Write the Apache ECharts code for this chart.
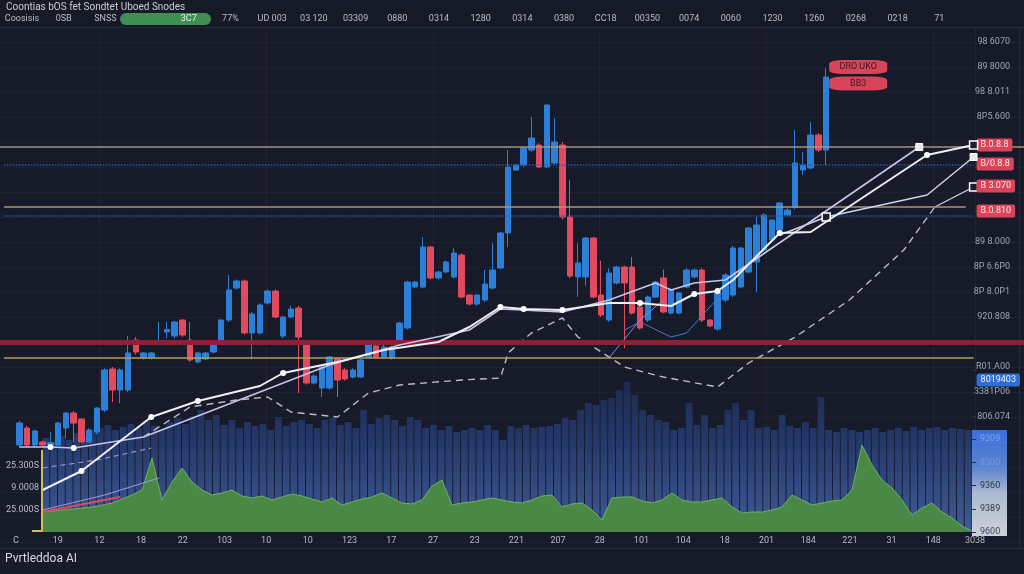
<!DOCTYPE html>
<html><head><meta charset="utf-8">
<script src="https://cdn.jsdelivr.net/npm/echarts/dist/echarts.min.js"></script>
<style>html,body{margin:0;padding:0;background:#171a28;}#c{width:1024px;height:574px;}</style>
</head><body><div id="c"></div>
<script>
// ---------- DATA ----------
const titleText = 'Coontias bOS fet Sondtet Uboed Snodes';
const footerText = 'Pvrtleddoa AI';
const topLabels = ['Coosisis','0SB','SNSS','','3C7','77%','UD 003','03 120','03309','0880','0314','1280','0314','0380','CC18','00350','0074','0060','1230','1260','0268','0218','71',''];
const bottomLabels = ['C','19','12','18','22','103','10','10','123','17','27','23','221','207','28','101','104','18','201','184','221','31','148','3038'];
const priceTickValues = [400,380,360,340,240,220,200,180,140,120,100];
const priceTickLabels = ['98 6070','89 8000','98 8.011','8P5.600','89 8.000','8P 6.6P0','8P 8.0P1','920.808','R01.A00','3381P06','806.074'];
const volBoxLabels = ['9600','9389','9360','9300','9309'];
const leftLabels = ['','25.000S','9.0008','25.300S'];

// candles: [open, close, low, high]
const candles = [
[77.6,95.2,76,97],[91.2,77.6,76,93],[77.6,88.8,76,90],[80,77.6,76.5,81],[78,79.5,77.6,88],
[77.6,95.2,77,96],[91.2,103.2,83,104],[103.2,95.2,80,105],[98.4,80,79,99],[80,89.6,79,91],
[88,107.2,86,108],[105.6,137.6,104,139],[138.4,121.6,112,140],[121.6,137.6,111,139],[121.6,151.2,120,165],
[161.6,152,150,164],[147.2,151.2,146,152],[147.2,151.2,146,152],[160,161,157.6,176],[168,170,163,176],
[164.8,176,163,177],[177.6,165.6,164,178],[161.6,145.6,144,176],[144,151.2,143,152],[146.4,151.2,145.6,152],
[152,159.2,151,160],[159.2,177.6,158,178],[177.6,201.6,176,213.6],[203.2,208.8,202,210],[208.8,167.2,166,210],
[167.2,182.4,146,184],[167.2,189.6,166,191],[191.2,200.8,190,202],[200.8,180,179,202],[164.8,180,163,181],
[180,186.4,179,189],[187.2,164,119,189],[158.4,127.2,126,160],[127.2,132.8,126,134],[123.2,140,116,141],
[123.2,148,122,149],[146.4,129.6,116,148],[137.6,130.4,129,139],[132,137.6,131,139],[132,145.6,131,147],
[148,157.6,147,159],[156.8,148,147,158],[148,156,147,158],[147.2,156,146,157],[159.2,175.2,158,176],
[171.2,208,170,209],[204,208,203,209],[204,236,203,244],[236,211.2,210,237],[211.2,216,210,217],
[216,224,215,225],[212,231.2,211,235],[229.6,196,195,231],[197.6,190.4,189,198],[190.4,197.6,189,198],
[193.6,206.4,192,217.6],[203.2,217.6,202,239],[219.2,247.2,218,248],[247.2,300,236,313.6],[297.6,301.6,297,302],
[301.6,315.2,300,316],[313.6,323.2,312,340],[317.6,300,299,319],[300,349.6,299,350],[303.2,320,302,339],
[317.6,260,258,320],[260,212.8,211,289.6],[212,223.2,196,239],[212,243.2,205,244],[243.2,196,195,244],
[197.6,181.6,180,225],[177.6,215.2,176,219],[207.2,220,206,221],[220,207.2,155,221],[220,183.2,182,228],
[188,171.2,170,189],[177.6,196,176,197],[196,208,195,209],[211.2,184,183,218],[183.2,201.6,182,203],
[183.2,199.2,182,200],[204,217.6,203,219],[212,217.6,211,219],[217.6,177.6,176,219],[177.6,172.8,172,178],
[170.4,200,169,201],[193.6,213.6,192,215],[197.6,235.2,196,237],[204,235.2,203,236],[216,251.2,215,252],
[224,253.6,200,260],[233.6,261.6,232,263],[241.6,257.6,240,258],[249.6,271.2,248,272],[261.6,265.6,260,267],
[268,303.2,266,329.6],[297.6,301.6,293.6,312],[299.2,325.6,298,336],[325.6,313.6,312,327],[313.6,372,301.6,379.2]
];

// line points: [candleIndex, value, marker]
const lineMain = [[3,41.6],[8,56.8,'o'],[17,100,'o'],[23,112.8,'o'],[31,124.8],[34,135.2,'o'],[41,144],[47,153.6],[54,160],[58,172],[62,188,'o'],[65,186.4,'o'],[70,185.6,'o'],[76,191.2],[80,191.2,'o'],[84,188.8],[87,198.4,'o'],[90,200.8,'o'],[92,209.6],[98,247.2,'o'],[102,248],[117,309.6,'o'],[123,317.6,'s']];
const lineSecond = [[0,76],[4,76,'o'],[7,75.2,'o'],[16,84],[30,117.6],[40,141.6],[49,157.6],[58,169.6],[62,186.4],[70,184],[76,193.6],[82,207.2],[84,201.6],[87,207.2],[91,209.6],[116,316,'f']];
const lineThird = [[98,245.6],[104,260,'s'],[117,277.6],[123,308,'f']];
const lineDashed = [[16,84],[22,108],[28,113.6],[32,116],[35,104],[41,100],[45,119.2],[49,125.6],[57,129.6],[62,131.2],[63,151.2],[66,167.2],[70,179.2],[72,164],[78,140],[83,132],[90,124],[94,143.2],[100,164],[107,193.6],[114,233.6],[118,268]];
const lineDashedEnd = [[118,268],[123,284,'s']];
const lineBlueThin = [[78,169.6],[80,176],[84,164],[86,167.2],[89,188],[91,201.6]];
const lineLavThin = [[76,147.2],[80,177.6],[83,193.6]];
const lineRedLow = [[3,24],[13,36]];
const lineLavLow = [[3,25.6],[11,37.6],[18,51.2]];
const lineLavDashLow = [[3,59.2],[10,65.6],[17,75.2]];

const volume = [94,90,96,92,99,94,102,104,107,102,105,108,104,112,106,102,110,114,108,116,122,112,117,107,112,104,110,106,108,102,115,106,110,112,108,104,112,114,107,110,104,122,108,114,117,112,106,115,112,104,107,102,106,100,102,104,102,107,102,92,106,104,107,104,105,106,108,114,112,122,129,127,132,134,142,150,137,122,117,112,110,102,104,129,107,117,104,107,122,129,112,122,104,105,102,117,106,104,110,104,135,102,100,104,102,100,102,104,100,102,104,101,105,102,104,105,102,104,103,102];
const greenArea = [20,21,22,23,24,25,27,29,33,37,42,74,32,50,64,50,42,37,39,42,36,34,36,32,35,38,36,33,30,34,27,30,33,35,39,34,29,28,32,46,52,27,29,30,32,34,32,30,29,32,36,37,25,28,29,22,12,34,35,35,31,29,32,39,32,30,30,32,34,25,19,20,20,22,25,37,32,27,29,31,32,42,87,67,52,44,32,17,24,29,20,14,6,1];

// ---------- BUILD ----------
const OFFSET = 2;
const PRICE_CATS = 132;
const priceCats = Array.from({length: PRICE_CATS}, (_, i) => 'p' + i);
const volCats = volume.map((_, i) => 'v' + i);
const greenCats = greenArea.map((_, i) => 'g' + i);
const candleData = [['-','-','-','-'],['-','-','-','-']].concat(candles);

const UP = '#2b7fd6', DOWN = '#e24a60';
const TAN = '#a8957a', GOLD = '#b49b62', DOTBLUE = '#2d5aa0';
const CLEAR = 'rgba(0,0,0,0)';

function mk(pt){
  const item = {value: [pt[0] + OFFSET, pt[1]]};
  if (pt[2] === 'o') { item.symbol = 'circle'; item.symbolSize = 6; item.itemStyle = {color:'#ffffff'}; }
  if (pt[2] === 's') { item.symbol = 'rect'; item.symbolSize = 8; item.itemStyle = {color:'#1b1f2e', borderColor:'#ffffff', borderWidth:1.5}; }
  if (pt[2] === 'f') { item.symbol = 'rect'; item.symbolSize = 7; item.itemStyle = {color:'#e8e8f4', borderColor:'#ffffff', borderWidth:1}; }
  return item;
}
function lineSeries(pts, color, width, type, z){
  return {type:'line', xAxisIndex:0, yAxisIndex:0, data: pts.map(mk), symbol:'none', showSymbol:true, showAllSymbol:true,
    lineStyle:{color: color, width: width, type: type || 'solid'}, z: z || 5, silent:true};
}
function tag(v, txt, bg, fg, radius){
  return [{xAxis: 0, yAxis: v, lineStyle:{color: CLEAR, width: 0.1}, label:{show:true, position:'end', distance:3, formatter: txt,
    backgroundColor: bg, color: fg, padding:[2,4,2,4], borderRadius: radius, fontSize:9}},
    {xAxis: 125, yAxis: v}];
}
function seg(v, endIdx, style){
  return [{xAxis: 0, yAxis: v, lineStyle: style}, {xAxis: endIdx, yAxis: v}];
}

const option = {
  backgroundColor: '#171a28',
  animation: false,
  textStyle: {fontFamily: 'Roboto'},
  title: [
    {text: titleText, left: 6, top: 2, padding: 0, textStyle:{color:'#c8ccd6', fontSize:10, fontWeight:'normal'}},
    {text: footerText, left: 5, top: 553, padding: 0, textStyle:{color:'#d6d9e2', fontSize:12, fontWeight:'normal'}}
  ],
  grid: [
    {left: 0, right: 0, top: 42, height: 500},
    {left: 42, right: 52, top: 370, height: 162},
    {left: 16, right: 49, top: 30, height: 502},
    {left: 22, right: 43, top: 27, height: 1}
  ],
  xAxis: [
    {type:'category', gridIndex:0, data: priceCats, show:false, boundaryGap:true},
    {type:'category', gridIndex:1, data: volCats, show:false, boundaryGap:true},
    {type:'category', gridIndex:1, data: greenCats, show:false, boundaryGap:false},
    {type:'category', gridIndex:2, data: bottomLabels, boundaryGap:false, position:'bottom',
      axisLine:{show:false}, axisTick:{show:false},
      axisLabel:{interval:0, color:'#b5b9c6', fontSize:9, margin:4},
      splitLine:{show:true, interval: (i) => i % 4 === 2, lineStyle:{color:'rgba(255,255,255,0.045)', width:1}}},
    {type:'category', gridIndex:3, data: topLabels, boundaryGap:false, position:'top',
      axisLine:{show:false}, axisTick:{show:false},
      axisLabel:{interval:0, fontSize:9, margin:4, color: (v, i) => (i === 4 ? '#dff5e3' : '#b8bcc8')}}
  ],
  yAxis: [
    {type:'value', gridIndex:0, min:0, max:400, interval:20, position:'right',
      axisLine:{show:false}, axisTick:{show:false},
      axisLabel:{inside:true, margin:14, color:'#9ea3b2', fontSize:9,
        formatter: (v) => { const k = priceTickValues.indexOf(v); return k >= 0 ? priceTickLabels[k] : ''; }},
      splitLine:{show:true, lineStyle:{color:'rgba(255,255,255,0.03)'}}},
    {type:'value', gridIndex:1, min:0, max:162, show:false},
    {type:'value', gridIndex:1, min:0, max:162/23.2, interval:1, position:'right', z:10,
      axisLine:{show:false}, axisTick:{show:true, length:4, lineStyle:{color:'#23304f'}},
      splitLine:{show:false},
      axisLabel:{margin:8, fontSize:9,
        color: (v) => ['#3c4660','#2b3448','#2b3448','#6d9cf0','#7aa6f5'][Math.round(v)] || '#2b3448',
        formatter: (v) => (Number.isInteger(v) && v < volBoxLabels.length) ? volBoxLabels[v] : ''}},
    {type:'value', gridIndex:1, min:0, max:162/22, interval:1, position:'left',
      axisLine:{show:false}, axisTick:{show:false}, splitLine:{show:false},
      axisLabel:{margin:3, color:'#b8bcc8', fontSize:9,
        formatter: (v) => (Number.isInteger(v) && v < leftLabels.length) ? leftLabels[v] : ''}},
    {type:'value', gridIndex:2, show:false, splitLine:{show:false}},
    {type:'value', gridIndex:3, show:false, splitLine:{show:false}}
  ],
  graphic: [
    {type:'rect', z:-10, shape:{x:0, y:0, width:1024, height:27}, style:{fill:'#161926'}},
    {type:'line', shape:{x1:0, y1:27.5, x2:1024, y2:27.5}, style:{stroke:'#262a3a', lineWidth:1}},
    {type:'line', shape:{x1:0, y1:548.5, x2:1024, y2:548.5}, style:{stroke:'#262a3a', lineWidth:1}},
    {type:'line', shape:{x1:1019.5, y1:28, x2:1019.5, y2:548}, style:{stroke:'#262a3a', lineWidth:1}},
    {type:'line', shape:{x1:975.5, y1:28, x2:975.5, y2:430}, style:{stroke:'rgba(255,255,255,0.05)', lineWidth:1}},
    {type:'rect', shape:{x:120, y:13, width:91, height:12, r:6}, style:{fill:'#3f8f55'}},
    {type:'rect', shape:{x:972, y:430, width:35, height:106},
      style:{fill: new echarts.graphic.LinearGradient(0,0,0,1,[
        {offset:0, color:'#3c6edb'},{offset:0.35, color:'#5b83cf'},{offset:0.6, color:'#aebad0'},{offset:1, color:'#cdd2da'}])}},
    {type:'polyline', z:100, shape:{points:[[42,450],[42,531],[32,531]]}, style:{stroke:'#d4b865', lineWidth:2, fill:'none'}}
  ],
  series: [
    {type:'bar', xAxisIndex:1, yAxisIndex:1, data: volume, barCategoryGap:'12%', z:1, silent:true,
      itemStyle:{color: new echarts.graphic.LinearGradient(0,380,0,532,[
        {offset:0, color:'#1c2a4c'},{offset:0.4, color:'#24386a'},{offset:1, color:'#3f5c96'}], true)}},
    {type:'line', xAxisIndex:2, yAxisIndex:1, data: greenArea, symbol:'none', z:2, silent:true,
      lineStyle:{color:'#6fae66', width:1}, areaStyle:{color:'#4a8845', opacity:1}},
    {type:'candlestick', xAxisIndex:0, yAxisIndex:0, data: candleData, z:3, barWidth:6, silent:true,
      itemStyle:{color:UP, color0:DOWN, borderColor:UP, borderColor0:DOWN, borderWidth:1},
      markLine:{silent:true, symbol:['none','none'], label:{show:false}, animation:false,
        data:[
          {yAxis:316, lineStyle:{color:TAN, width:1.5, type:'solid'}},
          seg(301.6, 125, {color:DOTBLUE, width:1.5, type:'dotted'}),
          seg(268, 124, {color:TAN, width:1.5, type:'solid'}),
          seg(260.8, 125, {color:DOTBLUE, width:1.5, type:'dotted'}),
          {yAxis:160, lineStyle:{color:'#8e1f35', width:5, type:'solid'}},
          seg(147.2, 125, {color:GOLD, width:1.5, type:'solid'}),
          tag(317.6, 'B.0.8.8', '#d8455b', '#fde6ea', 2),
          tag(302.4, 'B/0.8.8', '#d8455b', '#fde6ea', 2),
          tag(284.8, 'B 3.070', '#d8455b', '#fde6ea', 2),
          tag(264.8, 'B.0.810', '#d8455b', '#fde6ea', 2),
          tag(129.6, '8019403', '#2f6fd3', '#e6efff', 3)
        ]},
      markPoint:{silent:true, symbol:'roundRect', symbolSize:[58,14], symbolOffset:[32,0],
        itemStyle:{color:'#d8455b'},
        label:{show:true, color:'#3a1421', fontSize:9, formatter:(p) => p.name},
        data:[{name:'DRO UKO', coord:[104 + OFFSET, 380]},{name:'BB3', coord:[104 + OFFSET, 366.8]}]}
    },
    lineSeries(lineLavDashLow, '#9b93d6', 1.2, [5,4], 4),
    lineSeries(lineLavLow, '#9b93e0', 1.2, 'solid', 4),
    lineSeries(lineRedLow, '#e0485e', 2, 'solid', 4),
    lineSeries(lineBlueThin, '#4a78c8', 1, 'solid', 4),
    lineSeries(lineLavThin, '#8b87d8', 1, 'solid', 4),
    lineSeries(lineDashed, '#b9bccb', 1.4, [7,5], 4),
    lineSeries(lineDashedEnd, '#cfd0e8', 1.4, 'solid', 4),
    lineSeries(lineThird, '#d3d0ee', 1.5, 'solid', 5),
    lineSeries(lineSecond, '#c9c3e8', 1.6, 'solid', 5),
    lineSeries(lineMain, '#eeeef6', 2, 'solid', 6)
  ]
};
const chart = echarts.init(document.getElementById('c'), null, {renderer:'canvas'});
chart.setOption(option);
</script>
</body></html>
